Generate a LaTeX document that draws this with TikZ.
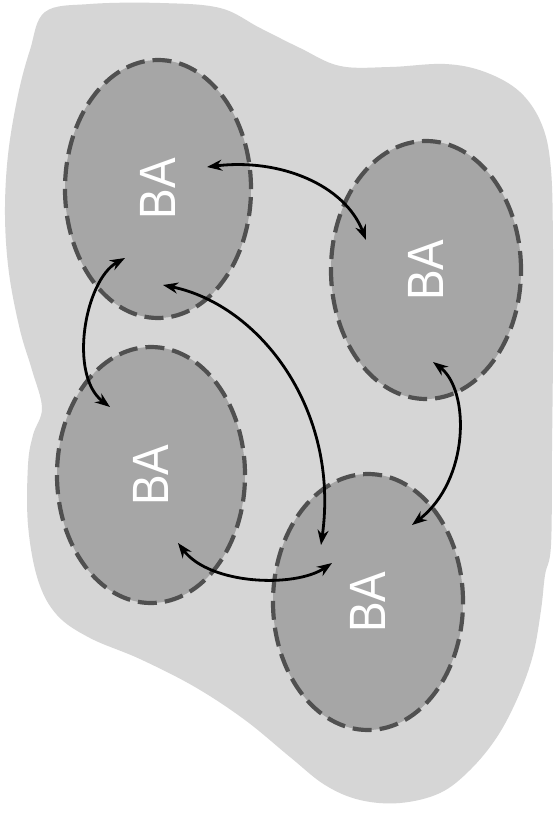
\documentclass[tikz,border=0pt]{standalone}
\usepackage{fontspec}
\setmainfont{Liberation Sans}
\usetikzlibrary{arrows.meta,shapes.geometric}

\definecolor{blobgray}{HTML}{D6D6D6}
\definecolor{cellgray}{HTML}{A6A6A6}
\definecolor{rimgray}{HTML}{505050}

\tikzset{
  cell/.style={ellipse, fill=cellgray, draw=rimgray, line width=4.2pt,
    dash pattern=on 19pt off 8pt, inner sep=0pt,
    text=white, font=\fontsize{51}{51}\selectfont},
  link/.style={line width=2.8pt, black,
    {Stealth[length=15pt,width=11pt]}-{Stealth[length=15pt,width=11pt]}}
}
\newcommand{\celltext}{\rotatebox{90}{\scalebox{0.9}[1]{BA}}}

\begin{document}
\begin{tikzpicture}[x=1pt,y=-1pt]
  \useasboundingbox (0,0) rectangle (556,813);
  \fill[white] (0,0) rectangle (556,813);

  % light background region
  \fill[blobgray] plot[smooth cycle, tension=0.6] coordinates {
    (45,12) (90,4) (160,3) (220,8) (260,28) (300,48) (340,66) (390,67)
    (445,64) (485,72) (520,92) (542,125) (551,170) (553,250) (553,350)
    (552,450) (551,545) (545,575) (541,610) (533,655) (518,697) (497,737)
    (470,770) (440,793) (400,803) (360,800) (325,785) (290,757) (245,720)
    (195,687) (140,659) (90,638) (57,615) (38,580) (28,525) (28,465)
    (33,435) (42,408) (32,370) (20,330) (9,273) (5,215) (8,155) (18,95)
    (30,50)};

  % the four cells
  \node[cell, minimum width=186pt, minimum height=258pt] (e1) at (158,189) {\celltext};
  \node[cell, minimum width=190pt, minimum height=258pt] (e2) at (426,270) {\celltext};
  \node[cell, minimum width=188pt, minimum height=256pt] (e3) at (151,475) {\celltext};
  \node[cell, minimum width=190pt, minimum height=256pt] (e4) at (368,602) {\celltext};

  % arrow ends inside the cells
  \path (e1.center) ++(49,-22) coordinate (e1r);
  \path (e1.center) ++(-33,69) coordinate (e1b);
  \path (e1.center) ++(5,96) coordinate (e1c);
  \path (e2.center) ++(-60,-30) coordinate (e2l);
  \path (e2.center) ++(7,92) coordinate (e2b);
  \path (e3.center) ++(-41,-68) coordinate (e3t);
  \path (e3.center) ++(27,68) coordinate (e3r);
  \path (e4.center) ++(-47,-57) coordinate (e4t);
  \path (e4.center) ++(-36,-39) coordinate (e4l);
  \path (e4.center) ++(44,-77) coordinate (e4r);

  % links between cells
  \draw[link] (e1r) .. controls (280,158) and (345,185) .. (e2l);
  \draw[link] (e1b) .. controls (85,280) and (68,375) .. (e3t);
  \draw[link] (e1c) .. controls (260,305) and (340,410) .. (e4t);
  \draw[link] (e3r) .. controls (210,585) and (295,588) .. (e4l);
  \draw[link] (e2b) .. controls (470,390) and (470,480) .. (e4r);
\end{tikzpicture}
\end{document}
